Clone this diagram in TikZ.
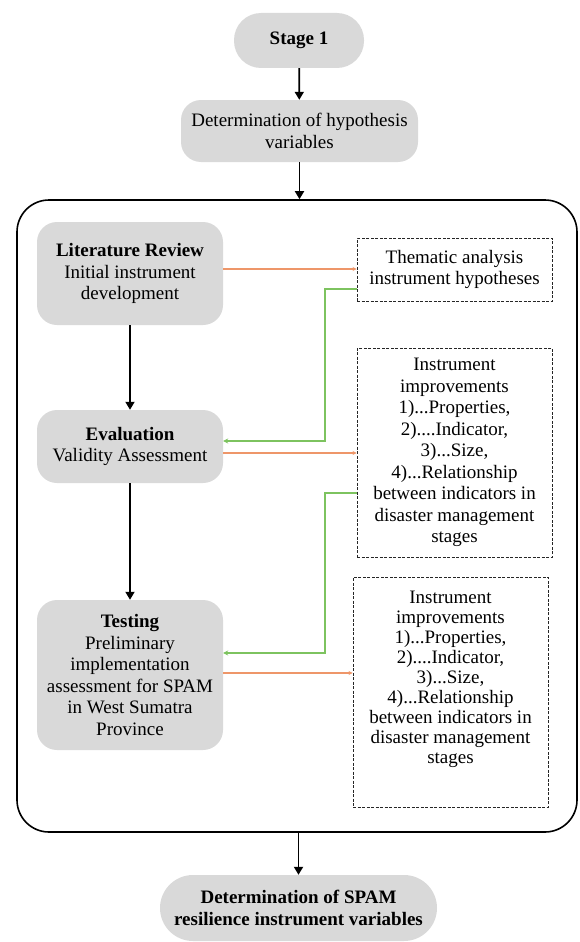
\documentclass[tikz,border=0pt]{standalone}
\usepackage{fontspec}
\setmainfont{Liberation Serif}
\usetikzlibrary{arrows.meta}
\definecolor{boxgray}{RGB}{217,217,217}
\definecolor{linkorange}{RGB}{238,150,105}
\definecolor{linkgreen}{RGB}{125,195,95}

\begin{document}
\begin{tikzpicture}[x=1pt,y=-1pt,
  txt/.style={font=\fontsize{19}{21.5}\selectfont, align=center, inner sep=0pt},
  gbox/.style={txt, fill=boxgray, draw=none, rounded corners=20pt},
  pill/.style={gbox, rounded corners=27pt},
  dbox/.style={draw=black!85, dash pattern=on 3pt off 1.5pt, line width=0.9pt, inner sep=0pt},
  flow/.style={line width=1.8pt, -{Triangle[width=9pt,length=8pt]}},
  orangelink/.style={draw=linkorange, line width=1.1pt, -{Stealth[width=4pt,length=4pt]}},
  greenlink/.style={draw=linkgreen, line width=1.1pt, -{Stealth[width=5pt,length=5pt]}},
]
\useasboundingbox (0,0) rectangle (579,942);

% top of the flow
\node[pill, minimum width=130pt, minimum height=55pt] (stage1) at (299,40.5) {\textbf{Stage 1}};
\node[gbox, minimum width=237pt, minimum height=62pt] (hyp) at (299.5,131)
  {Determination of hypothesis\\variables};

% enclosing frame
\node[draw=black, line width=1.6pt, rounded corners=32pt, minimum width=560pt,
      minimum height=632pt, inner sep=0pt] (frame) at (297,516) {};

% main stages
\node[gbox, minimum width=186pt, minimum height=103pt] (lit) at (130,273.5)
  {\textbf{Literature Review}\\Initial instrument\\development};
\node[gbox, minimum width=186pt, minimum height=73pt] (eval) at (130,446.5)
  {\textbf{Evaluation}\\Validity Assessment};
\node[gbox, minimum width=186pt, minimum height=150pt] (test) at (130,675)
  {\textbf{Testing}\\Preliminary\\implementation\\assessment for SPAM\\in West Sumatra\\Province};

% outputs
\node[dbox, txt, minimum width=195pt, minimum height=63pt] (them) at (454.5,269.5)
  {Thematic analysis\\instrument hypotheses};
\node[dbox, txt, minimum width=195pt, minimum height=209pt] (imp1) at (454.5,452.5)
  {Instrument\\improvements\\1)...Properties,\\2)....Indicator,\\3)...Size,\\4)...Relationship\\between indicators in\\disaster management\\stages};
\node[dbox, minimum width=195pt, minimum height=230pt] (imp2) at (450.5,692) {};
\node[txt, font=\fontsize{19}{20}\selectfont] (imp2text) at (450.5,679)
  {Instrument\\improvements\\1)...Properties,\\2)....Indicator,\\3)...Size,\\4)...Relationship\\between indicators in\\disaster management\\stages};

% final result
\node[gbox, rounded corners=33pt, minimum width=277pt, minimum height=66pt] (final) at (298.5,908)
  {\textbf{Determination of SPAM}\\\textbf{resilience instrument variables}};

% helper rows for the side links
\coordinate (r1) at (0,269);
\coordinate (r2) at (0,289);
\coordinate (r3) at (0,441);
\coordinate (r4) at (0,453);
\coordinate (r5) at (0,493);
\coordinate (r6) at (0,653);
\coordinate (r7) at (0,673);
\coordinate (bus) at (325,0);

% main flow arrows
\draw[flow] (stage1) -- (hyp);
\draw[flow] (hyp.south) -- (hyp.south |- frame.north);
\draw[flow] (lit) -- (eval);
\draw[flow] (eval) -- (test);
\draw[flow] (final.north |- frame.south) -- (final.north);

% side links
\draw[orangelink] (lit.east |- r1) -- (them.west |- r1);
\draw[greenlink] (them.west |- r2) -- (bus |- r2) -- (bus |- r3) -- (eval.east |- r3);
\draw[orangelink] (eval.east |- r4) -- (imp1.west |- r4);
\draw[greenlink] (imp1.west |- r5) -- (bus |- r5) -- (bus |- r6) -- (test.east |- r6);
\draw[orangelink] (test.east |- r7) -- (imp2.west |- r7);
\end{tikzpicture}
\end{document}
